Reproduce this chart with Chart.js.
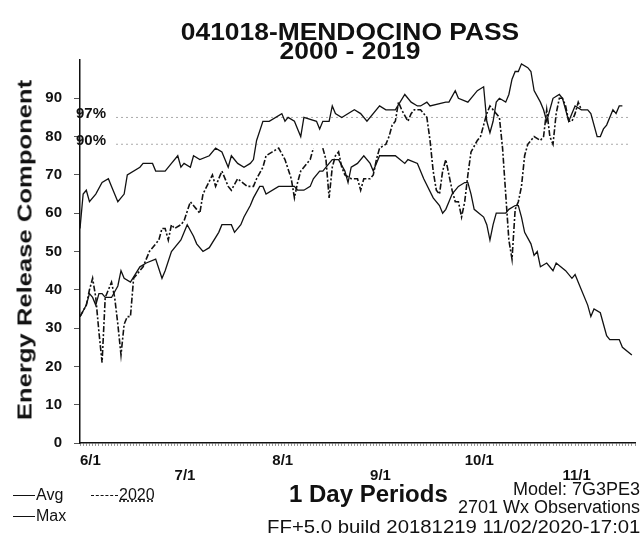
<!DOCTYPE html>
<html>
<head>
<meta charset="utf-8">
<script src="https://cdn.jsdelivr.net/npm/chart.js@4.4.1/dist/chart.umd.min.js"></script>
<style>
  body { margin: 0; background: #fff; font-family: "Liberation Sans", Arial, sans-serif; color: #111; }
  #wrap { position: relative; width: 643px; height: 541px; overflow: hidden; }
  #chart { position: absolute; left: 0; top: 0; }
  .t { position: absolute; white-space: nowrap; line-height: 1; }
  .title { font-weight: bold; font-size: 24px; left: 350px; transform: translateX(-50%) scaleX(1.1); }
  .ytitle { font-weight: bold; font-size: 21px; left: 24px; top: 250px; transform: translate(-50%, -50%) rotate(-90deg) scaleX(1.22); }
  .right { right: 3px; font-size: 18px; transform-origin: right; }
  .leg { font-size: 16px; }
  .line { display: inline-block; width: 22px; vertical-align: middle; border-top: 1.5px solid #111; margin-right: 1px; }
  .dash { border-top: 1.5px dashed #111; width: 27px; }
</style>
</head>
<body>
<div id="wrap">
  <canvas id="chart" width="643" height="541"></canvas>
  <div class="t title" style="top:20px">041018-MENDOCINO PASS</div>
  <div class="t title" style="top:39px">2000 - 2019</div>
  <div class="t ytitle">Energy Release Component</div>
  <div class="t leg" style="left:13px;top:487px"><span class="line"></span>Avg</div>
  <div class="t leg" style="left:91px;top:487px"><span class="line dash"></span><span style="text-decoration: underline dotted">2020</span></div>
  <div class="t leg" style="left:13px;top:508px"><span class="line"></span>Max</div>
  <div class="t" style="left:289px;top:482px;font-weight:bold;font-size:24px">1 Day Periods</div>
  <div class="t right" style="top:480px">Model: 7G3PE3</div>
  <div class="t right" style="top:498px">2701 Wx Observations</div>
  <div class="t right" style="top:518px;transform:scaleX(1.13)">FF+5.0 build 20181219 11/02/2020-17:01</div>
</div>
<script>
// day index from 6/1, ERC value
const maxPoints = [[0,56],[1,65],[2,66],[3,63],[5,65],[7,68],[9,69],[10,67],[12,63],[14,65],[15,70],[19,72],[20,73],[23,73],[24,71],[27,71],[29,73],[31,75],[32,72],[33,73],[35,72],[36,75],[38,74],[41,75],[43,77],[45,76],[47,72],[48,75],[50,73],[52,72],[54,73],[55,74],[56,79],[58,84],[60,84],[64,86],[65,84],[66,85],[68,84],[69,82],[70,80],[71,85],[75,84],[76,82],[77,84],[79,84],[80,88],[81,86],[83,85],[87,87],[89,86],[91,84],[95,88],[97,87],[98,87],[100,87],[103,91],[105,89],[107,88],[108,88],[110,89],[111,88],[116,89],[117,89],[119,92],[120,90],[123,89],[126,92],[128,93],[129,84],[130,81],[131,84],[132,89],[133,90],[135,89],[136,91],[137,95],[138,97],[139,97],[140,99],[142,98],[143,97],[144,92],[146,89],[147,87],[148,84],[150,90],[152,91],[153,90],[155,84],[156,86],[157,88],[159,87],[161,87],[162,86],[164,80],[165,80],[166,82],[167,83],[169,87],[170,86],[171,88],[172,88]];

const avgPoints = [[0,33],[2,36],[3,39],[4,38],[5,36],[6,39],[7,39],[8,38],[10,38],[12,41],[13,45],[14,43],[16,42],[19,46],[21,47],[24,48],[26,43],[27,45],[29,50],[32,53],[34,57],[36,54],[37,52],[39,50],[41,51],[44,55],[45,57],[48,57],[49,55],[51,57],[52,59],[54,62],[55,64],[57,67],[58,67],[59,65],[63,67],[65,67],[66,67],[68,67],[69,66],[71,66],[73,67],[74,69],[76,71],[77,71],[79,73],[80,74],[82,74],[84,71],[85,68],[86,72],[88,73],[90,75],[92,73],[93,71],[95,75],[98,75],[100,75],[103,73],[104,74],[107,73],[109,69],[112,64],[114,62],[115,60],[116,61],[117,63],[118,65],[120,67],[122,68],[123,68],[124,65],[125,61],[128,59],[129,57],[130,53],[131,57],[132,60],[135,60],[136,61],[138,62],[139,62],[140,59],[141,55],[143,52],[144,49],[145,50],[146,46],[148,47],[150,45],[151,47],[154,45],[156,43],[157,44],[158,42],[161,36],[162,33],[163,35],[165,34],[167,28],[168,27],[171,27],[172,25],[175,23]];

const y2020Points = [[0,33],[2,36],[3,40],[4,43],[5,38],[6,29],[7,21],[8,38],[10,42],[11,38],[12,31],[13,23],[14,31],[15,33],[16,33],[17,43],[20,46],[22,50],[23,51],[25,53],[26,56],[27,56],[28,53],[29,57],[30,56],[32,57],[33,58],[35,63],[37,61],[38,60],[39,65],[42,70],[43,67],[45,71],[47,67],[48,66],[50,69],[53,67],[55,67],[56,69],[58,72],[59,75],[61,76],[63,77],[65,74],[67,69],[68,64],[69,68],[70,71],[73,74],[74,77],[75,null],[77,77],[78,74],[79,64],[80,72],[81,75],[82,76],[83,72],[84,70],[86,69],[88,69],[89,66],[90,69],[92,69],[93,70],[94,74],[95,77],[97,78],[98,80],[99,83],[100,84],[101,89],[102,87],[104,84],[105,86],[106,87],[108,87],[110,85],[111,79],[112,71],[113,66],[114,65],[115,71],[116,74],[117,70],[118,66],[119,63],[120,63],[121,59],[122,63],[123,70],[124,76],[126,79],[127,80],[128,83],[129,86],[130,88],[131,87],[133,85],[134,77],[135,65],[136,53],[137,48],[138,61],[139,63],[140,67],[141,75],[142,78],[144,80],[146,79],[147,80],[148,87],[149,80],[150,78],[151,86],[152,90],[153,90],[154,88],[155,84],[156,84],[157,86],[158,89],[159,87]];

// percentile lines
const pctLabels = ['97%', '90%'];
const pctValues = [85, 78];

// month ticks (day index from 6/1); every other label drops a row
const monthDays = [0, 30, 61, 92, 122, 153];
const monthLabels = ['6/1', '7/1', '8/1', '9/1', '10/1', '11/1'];
const yTicks = [0, 10, 20, 30, 40, 50, 60, 70, 80, 90];
const lastDay = 176;

const toXY = pts => pts.map(p => ({ x: p[0], y: p[1] }));

const percentilePlugin = {
    id: 'percentiles',
    beforeDatasetsDraw(chart) {
        const { ctx, chartArea, scales } = chart;
        ctx.save();
        ctx.strokeStyle = '#aaa';
        ctx.lineWidth = 1;
        ctx.setLineDash([2, 3]);
        pctValues.forEach(v => {
            const y = scales.y.getPixelForValue(v);
            ctx.beginPath();
            ctx.moveTo(chartArea.left + 36, y);
            ctx.lineTo(chartArea.right - 4, y);
            ctx.stroke();
        });
        ctx.restore();
    },
    afterDatasetsDraw(chart) {
        const { ctx, chartArea, scales } = chart;
        ctx.save();
        ctx.fillStyle = '#111';
        ctx.font = 'bold 15px "Liberation Sans", Arial, sans-serif';
        ctx.textBaseline = 'alphabetic';
        pctValues.forEach((v, i) => {
            ctx.fillText(pctLabels[i], chartArea.left - 4, scales.y.getPixelForValue(v) + 1);
        });
        ctx.restore();
    }
};

new Chart(document.getElementById('chart'), {
    type: 'line',
    data: {
        datasets: [
            { label: 'Max', data: toXY(maxPoints), borderColor: '#111', borderWidth: 1.3 },
            { label: 'Avg', data: toXY(avgPoints), borderColor: '#111', borderWidth: 1.3 },
            { label: '2020', data: toXY(y2020Points), borderColor: '#111', borderWidth: 1.6, borderDash: [6, 2, 2, 2] }
        ]
    },
    options: {
        responsive: false,
        animation: false,
        devicePixelRatio: 1,
        spanGaps: false,
        elements: { point: { radius: 0 }, line: { tension: 0 } },
        layout: { padding: { top: 60, right: 6, left: 0, bottom: 53 } },
        plugins: { legend: { display: false }, title: { display: false }, tooltip: { enabled: false } },
        scales: {
            x: {
                type: 'linear',
                min: 0,
                max: lastDay,
                border: { color: '#111', width: 1.5 },
                grid: { drawOnChartArea: false, drawTicks: true, tickLength: 3, color: '#999' },
                afterBuildTicks: scale => {
                    const t = [];
                    for (let d = 0; d <= lastDay; d++) t.push({ value: d });
                    scale.ticks = t;
                },
                afterFit: scale => { scale.height = 45; },
                ticks: {
                    autoSkip: false,
                    maxRotation: 0,
                    align: 'start',
                    padding: 8,
                    color: '#111',
                    font: { family: '"Liberation Sans", Arial, sans-serif', size: 15, weight: 'bold', lineHeight: 0.95 },
                    callback: v => {
                        const i = monthDays.indexOf(v);
                        if (i < 0) return '';
                        return i % 2 ? ['', monthLabels[i]] : monthLabels[i];
                    }
                }
            },
            y: {
                min: 0,
                max: 100,
                border: { color: '#111', width: 1.5 },
                grid: { drawOnChartArea: false, drawTicks: true, tickLength: 6, color: '#555' },
                afterBuildTicks: scale => { scale.ticks = yTicks.map(v => ({ value: v })); },
                afterFit: scale => { scale.width = 80; },
                ticks: {
                    padding: 12,
                    color: '#111',
                    font: { family: '"Liberation Sans", Arial, sans-serif', size: 15, weight: 'bold' }
                }
            }
        }
    },
    plugins: [percentilePlugin]
});
</script>
</body>
</html>
